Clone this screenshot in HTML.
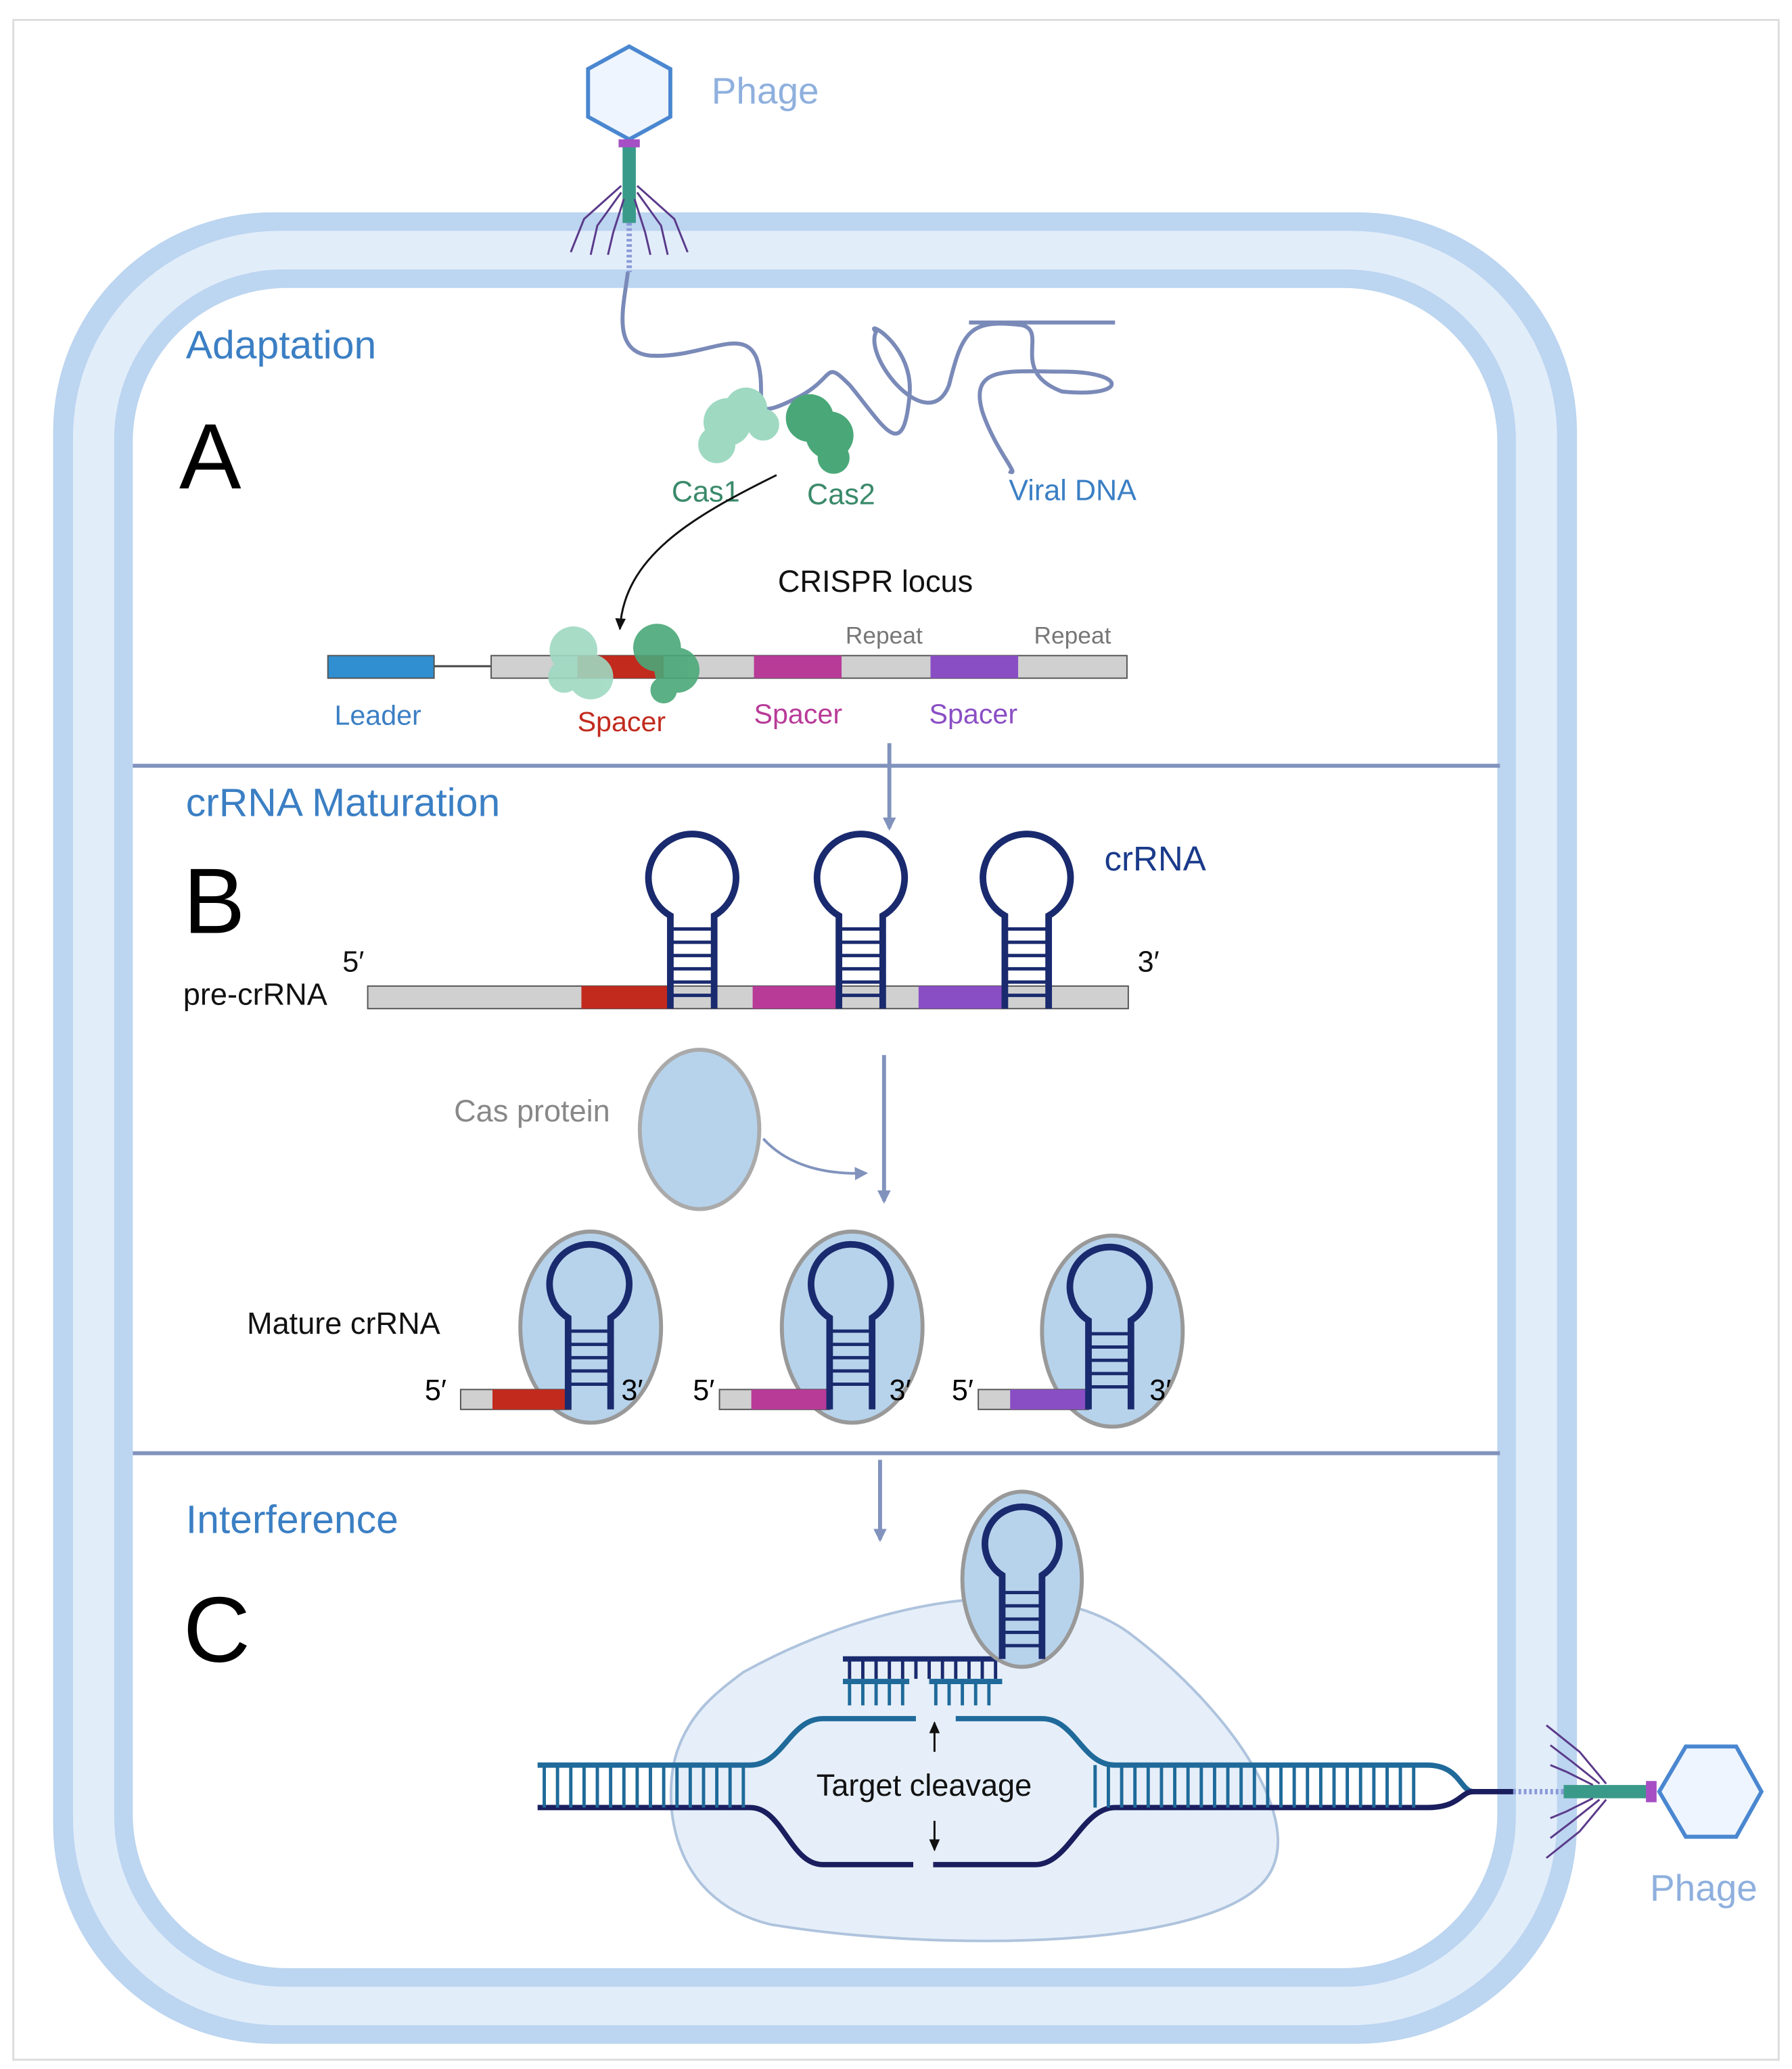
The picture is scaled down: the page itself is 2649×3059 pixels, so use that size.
<!DOCTYPE html>
<html><head><meta charset="utf-8"><style>
html,body{margin:0;padding:0;background:#fff}
svg{display:block}
text{font-family:"Liberation Sans",sans-serif}
</style></head><body>
<svg width="2649" height="3059" viewBox="0 0 1350 1559" xmlns="http://www.w3.org/2000/svg">
<defs>
<marker id="ab" markerWidth="10" markerHeight="10" refX="8" refY="5" orient="auto" markerUnits="userSpaceOnUse"><path d="M0,0 L10,5 L0,10 z" fill="#8193bd"/></marker>
<marker id="ak" markerWidth="10" markerHeight="10" refX="8" refY="5" orient="auto" markerUnits="userSpaceOnUse"><path d="M0,1 L9,5 L0,9 z" fill="#111"/></marker>
</defs>
<rect x="10" y="15" width="1330" height="1537" fill="#fff" stroke="#ddd" stroke-width="1.5"/>
<rect x="40" y="160" width="1148" height="1380" rx="165" fill="#bcd5f0"/>
<rect x="55" y="174" width="1118" height="1352" rx="155" fill="#e2edfa"/>
<rect x="86" y="203" width="1056" height="1294" rx="128" fill="#bcd5f0"/>
<rect x="100" y="217" width="1028" height="1266" rx="116" fill="#fff"/>
<line x1="100" y1="577" x2="1130" y2="577" stroke="#8193bd" stroke-width="3"/>
<line x1="100" y1="1095" x2="1130" y2="1095" stroke="#8193bd" stroke-width="3"/>

<polygon points="474,35 505,52 505,88 474,105 443,88 443,52" fill="#eef5ff" stroke="#4a87d0" stroke-width="3"/>
<rect x="469" y="108" width="10" height="60" fill="#3a9a8a"/>
<g stroke="#5a3a8a" stroke-width="1.5" fill="none">
<path d="M468,140 L440,165 L430,190"/><path d="M468,145 L450,170 L445,192"/><path d="M470,150 L462,175 L458,192"/>
<path d="M480,140 L508,165 L518,190"/><path d="M480,145 L498,170 L503,192"/><path d="M478,150 L486,175 L490,192"/>
</g>
<rect x="466" y="105" width="16" height="6" fill="#a64fc4"/>
<line x1="474" y1="168" x2="474" y2="205" stroke="#8a9ad8" stroke-width="4" stroke-dasharray="2,2"/>
<text x="536" y="78" font-size="28" fill="#8fb0de">Phage</text>

<path d="M473,205 C470,230 460,265 490,268 C530,270 560,245 570,270 C580,300 560,320 600,300 C630,285 620,270 640,290 C665,320 680,350 685,300 C690,260 650,240 660,250 C650,270 700,330 715,290 C725,250 730,240 770,245 C790,250 760,280 800,295 C850,300 850,280 800,280 C760,280 730,275 740,310 C750,340 770,360 760,355 M730,243 L840,243" fill="none" stroke="#7a8ab8" stroke-width="3"/>
<g fill="#9fd9c2"><circle cx="548" cy="318" r="18"/><circle cx="562" cy="308" r="16"/><circle cx="540" cy="335" r="14"/><circle cx="575" cy="320" r="12"/></g>
<g fill="#4aa878"><circle cx="610" cy="315" r="18"/><circle cx="625" cy="328" r="18"/><circle cx="628" cy="345" r="12"/></g>
<text x="506" y="378" font-size="22" fill="#3a8a6a">Cas1</text>
<text x="608" y="380" font-size="22" fill="#3a8a6a">Cas2</text>
<text x="760" y="377" font-size="22" fill="#3b7fc4">Viral DNA</text>
<path d="M585,358 C520,390 470,420 467,474" fill="none" stroke="#111" stroke-width="1.5" marker-end="url(#ak)"/>

<text x="586" y="446" font-size="23" fill="#111">CRISPR locus</text>
<rect x="247" y="494" width="80" height="17" fill="#2f8fd0" stroke="#555"/>
<line x1="327" y1="502" x2="370" y2="502" stroke="#444" stroke-width="1.5"/>
<rect x="370" y="494" width="479" height="17" fill="#d0d0d0" stroke="#555"/>
<rect x="435" y="494" width="65" height="17" fill="#c22a1e"/>
<rect x="568" y="494" width="66" height="17" fill="#b83b98"/>
<rect x="701" y="494" width="66" height="17" fill="#8a4ec4"/>
<g fill="#9fd9c2" opacity="0.9"><circle cx="432" cy="490" r="18"/><circle cx="445" cy="510" r="17"/><circle cx="425" cy="510" r="12"/></g>
<g fill="#4aa878" opacity="0.9"><circle cx="495" cy="488" r="18"/><circle cx="510" cy="505" r="17"/><circle cx="500" cy="520" r="10"/></g>
<text x="637" y="485" font-size="18" fill="#777">Repeat</text>
<text x="779" y="485" font-size="18" fill="#777">Repeat</text>
<text x="252" y="546" font-size="21" fill="#3b7fc4">Leader</text>
<text x="435" y="551" font-size="21" fill="#c22a1e">Spacer</text>
<text x="568" y="545" font-size="21" fill="#b83b98">Spacer</text>
<text x="700" y="545" font-size="21" fill="#8a4ec4">Spacer</text>
<line x1="670" y1="560" x2="670" y2="624" stroke="#8193bd" stroke-width="3" marker-end="url(#ab)"/>

<text x="140" y="270" font-size="30" fill="#3b7fc4">Adaptation</text>
<text x="135" y="368" font-size="70" fill="#000">A</text>
<text x="140" y="615" font-size="30" fill="#3b7fc4">crRNA Maturation</text>
<text x="138" y="703" font-size="70" fill="#000">B</text>
<text x="140" y="1155" font-size="30" fill="#3b7fc4">Interference</text>
<text x="138" y="1252" font-size="70" fill="#000">C</text>

<rect x="277" y="743" width="573" height="17" fill="#d0d0d0" stroke="#555"/>
<rect x="438" y="743" width="65" height="17" fill="#c22a1e"/>
<rect x="567" y="743" width="63" height="17" fill="#b83b98"/>
<rect x="692" y="743" width="63" height="17" fill="#8a4ec4"/>
<g stroke="#1a2a6e" stroke-width="5" fill="none">
<path d="M505,760 L505,690 A33,33 0 1 1 538,690 L538,760"/>
<path d="M632,760 L632,690 A33,33 0 1 1 665,690 L665,760"/>
<path d="M757,760 L757,690 A33,33 0 1 1 790,690 L790,760"/>
</g>
<g stroke="#1a2a6e" stroke-width="2.5">
<path d="M505,700H538M505,710H538M505,720H538M505,730H538M505,740H538M505,750H538"/>
<path d="M632,700H665M632,710H665M632,720H665M632,730H665M632,740H665M632,750H665"/>
<path d="M757,700H790M757,710H790M757,720H790M757,730H790M757,740H790M757,750H790"/>
</g>
<text x="258" y="732" font-size="22" fill="#111">5′</text>
<text x="857" y="732" font-size="22" fill="#111">3′</text>
<text x="138" y="757" font-size="23" fill="#111">pre-crRNA</text>
<text x="832" y="656" font-size="26" fill="#1a3a8a">crRNA</text>

<line x1="666" y1="795" x2="666" y2="905" stroke="#8193bd" stroke-width="3" marker-end="url(#ab)"/>
<ellipse cx="527" cy="851" rx="45" ry="60" fill="#b7d3ec" stroke="#aaa" stroke-width="3"/>
<text x="342" y="845" font-size="23" fill="#888">Cas protein</text>
<path d="M575,858 C595,880 625,885 652,884" fill="none" stroke="#8193bd" stroke-width="2" marker-end="url(#ab)"/>

<text x="186" y="1005" font-size="23" fill="#111">Mature crRNA</text>
<g>
<ellipse cx="445" cy="1000" rx="53" ry="72" fill="#b7d3ec" stroke="#999" stroke-width="3"/>
<ellipse cx="642" cy="1000" rx="53" ry="72" fill="#b7d3ec" stroke="#999" stroke-width="3"/>
<ellipse cx="838" cy="1003" rx="53" ry="72" fill="#b7d3ec" stroke="#999" stroke-width="3"/>
<rect x="347" y="1047" width="83" height="15" fill="#d0d0d0" stroke="#555"/><rect x="371" y="1047" width="59" height="15" fill="#c22a1e"/>
<rect x="542" y="1047" width="83" height="15" fill="#d0d0d0" stroke="#555"/><rect x="566" y="1047" width="59" height="15" fill="#b83b98"/>
<rect x="737" y="1047" width="83" height="15" fill="#d0d0d0" stroke="#555"/><rect x="761" y="1047" width="59" height="15" fill="#8a4ec4"/>
<g stroke="#1a2a6e" stroke-width="5" fill="none">
<path d="M428,1062 L428,993 A30,30 0 1 1 460,993 L460,1062"/>
<path d="M625,1062 L625,993 A30,30 0 1 1 657,993 L657,1062"/>
<path d="M820,1062 L820,995 A30,30 0 1 1 852,995 L852,1062"/>
</g>
<g stroke="#1a2a6e" stroke-width="2.5">
<path d="M428,1003H460M428,1013H460M428,1023H460M428,1033H460M428,1043H460"/>
<path d="M625,1003H657M625,1013H657M625,1023H657M625,1033H657M625,1043H657"/>
<path d="M820,1005H852M820,1015H852M820,1025H852M820,1035H852M820,1045H852"/>
</g>
<text x="320" y="1055" font-size="22">5′</text><text x="468" y="1055" font-size="22">3′</text>
<text x="522" y="1055" font-size="22">5′</text><text x="670" y="1055" font-size="22">3′</text>
<text x="717" y="1055" font-size="22">5′</text><text x="866" y="1055" font-size="22">3′</text>
</g>

<line x1="663" y1="1100" x2="663" y2="1160" stroke="#8193bd" stroke-width="3" marker-end="url(#ab)"/>

<path d="M560,1260 C650,1210 780,1180 850,1230 C930,1290 990,1380 950,1420 C900,1470 700,1470 580,1450 C500,1430 500,1350 510,1320 C520,1290 540,1275 560,1260 Z" fill="#e6eff9" stroke="#aec3dd" stroke-width="2"/>
<g stroke="#1f6a9a" stroke-width="4" fill="none">
<path d="M405,1330 L565,1330 C590,1330 595,1295 620,1295 L690,1295"/>
<path d="M720,1295 L785,1295 C810,1295 815,1330 840,1330 L1075,1330 C1100,1330 1100,1350 1110,1350"/>
</g>
<g stroke="#1a1e5e" stroke-width="4" fill="none">
<path d="M405,1362 L565,1362 C590,1362 595,1405 620,1405 L688,1405"/>
<path d="M703,1405 L780,1405 C805,1405 815,1362 840,1362 L1075,1362 C1100,1362 1100,1350 1110,1350 L1140,1350"/>
</g>
<g stroke="#1f6a9a" stroke-width="2.5">
<path d="M410,1330V1362M420,1330V1362M430,1330V1362M440,1330V1362M450,1330V1362M460,1330V1362M470,1330V1362M480,1330V1362M490,1330V1362M500,1330V1362M510,1330V1362M520,1330V1362M530,1330V1362M540,1330V1362M550,1330V1362M560,1330V1362"/>
<path d="M825,1330V1362M835,1330V1362M845,1330V1362M855,1330V1362M865,1330V1362M875,1330V1362M885,1330V1362M895,1330V1362M905,1330V1362M915,1330V1362M925,1330V1362M935,1330V1362M945,1330V1362M955,1330V1362M965,1330V1362M975,1330V1362M985,1330V1362M995,1330V1362M1005,1330V1362M1015,1330V1362M1025,1330V1362M1035,1330V1362M1045,1330V1362M1055,1330V1362M1065,1330V1362"/>
<path d="M640,1265V1285M650,1265V1285M660,1265V1285M670,1265V1285M680,1265V1285M705,1265V1285M715,1265V1285M725,1265V1285M735,1265V1285M745,1265V1285"/>
</g>
<line x1="635" y1="1250" x2="755" y2="1250" stroke="#1a2a6e" stroke-width="4"/>
<g stroke="#1a2a6e" stroke-width="2.5"><path d="M640,1250V1265M650,1250V1265M660,1250V1265M670,1250V1265M680,1250V1265M690,1250V1265M700,1250V1265M710,1250V1265M720,1250V1265M730,1250V1265M740,1250V1265M750,1250V1265"/></g>
<line x1="635" y1="1267" x2="685" y2="1267" stroke="#1f6a9a" stroke-width="4"/>
<line x1="700" y1="1267" x2="755" y2="1267" stroke="#1f6a9a" stroke-width="4"/>
<ellipse cx="770" cy="1190" rx="45" ry="66" fill="#b7d3ec" stroke="#999" stroke-width="3"/>
<path d="M755,1250 L755,1187 A28,28 0 1 1 785,1187 L785,1250" fill="none" stroke="#1a2a6e" stroke-width="5"/>
<g stroke="#1a2a6e" stroke-width="2.5"><path d="M755,1200H785M755,1210H785M755,1220H785M755,1230H785M755,1240H785"/></g>
<line x1="704" y1="1320" x2="704" y2="1298" stroke="#111" stroke-width="1.5" marker-end="url(#ak)"/>
<line x1="704" y1="1372" x2="704" y2="1394" stroke="#111" stroke-width="1.5" marker-end="url(#ak)"/>
<text x="615" y="1353" font-size="23" fill="#111">Target cleavage</text>

<line x1="1140" y1="1350" x2="1180" y2="1350" stroke="#8a9ad8" stroke-width="4" stroke-dasharray="2,2"/>
<rect x="1178" y="1345" width="65" height="10" fill="#3a9a8a"/>
<g stroke="#5a3a8a" stroke-width="1.5" fill="none">
<path d="M1210,1344 L1190,1320 L1165,1300"/><path d="M1205,1344 L1185,1328 L1168,1315"/><path d="M1200,1345 L1180,1335 L1168,1330"/>
<path d="M1210,1356 L1190,1380 L1165,1400"/><path d="M1205,1356 L1185,1372 L1168,1385"/><path d="M1200,1355 L1180,1365 L1168,1370"/>
</g>
<rect x="1240" y="1342" width="8" height="16" fill="#a64fc4"/>
<polygon points="1250,1350 1270,1316 1308,1316 1327,1350 1308,1384 1270,1384" fill="#eef5ff" stroke="#4a87d0" stroke-width="3"/>
<text x="1243" y="1432" font-size="28" fill="#8fb0de">Phage</text>
</svg>
</body></html>
